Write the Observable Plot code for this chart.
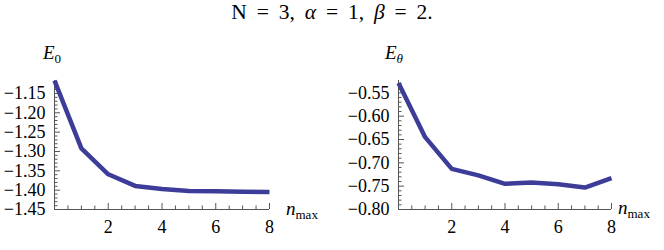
<!DOCTYPE html>
<html>
<head>
<meta charset="utf-8">
<script src="https://cdn.jsdelivr.net/npm/d3@7"></script>
<script src="https://cdn.jsdelivr.net/npm/@observablehq/plot@0.6"></script>
<style>
  html, body { margin: 0; padding: 0; background: #fff; }
  #wrap { position: relative; width: 664px; height: 250px; font-family: 'Liberation Serif', 'Times New Roman', serif; color: #000; }
  #title { position: absolute; left: 0; top: -3px; width: 664px; text-align: center; font-size: 21.5px; line-height: 30px; word-spacing: 4.5px; }
  .panel { position: absolute; top: 40px; }
  .lbl { position: absolute; font-size: 19px; line-height: 1; white-space: nowrap; }
  .lbl i { font-style: italic; }
  .lbl sub { font-size: 13px; vertical-align: -4px; line-height: 0; }
</style>
</head>
<body>
<div id="wrap">
  <div id="title">N = 3, <i>α</i> = 1, <i>β</i> = 2.</div>
  <div class="panel" id="left" style="left:0px"></div>
  <div class="panel" id="right" style="left:332px"></div>
  <div class="lbl" style="left:43px; top:43px"><i>E</i><sub>0</sub></div>
  <div class="lbl" style="left:385px; top:43px"><i>E</i><sub><i>θ</i></sub></div>
  <div class="lbl" style="left:286px; top:199px"><i>n</i><sub>max</sub></div>
  <div class="lbl" style="left:618px; top:198px"><i>n</i><sub>max</sub></div>
</div>
<script>
// Data
const nmax = [0, 1, 2, 3, 4, 5, 6, 7, 8];
const E0 = [-1.117, -1.292, -1.359, -1.389, -1.397, -1.402, -1.403, -1.404, -1.405];
const Etheta = [-0.529, -0.645, -0.713, -0.727, -0.745, -0.742, -0.746, -0.753, -0.733];
const xMajorTicks = [2, 4, 6, 8];
const xMinorTicks = [0.5, 1, 1.5, 2.5, 3, 3.5, 4.5, 5, 5.5, 6.5, 7, 7.5];
const E0Ticks = [-1.45, -1.40, -1.35, -1.30, -1.25, -1.20, -1.15];
const EthetaTicks = [-0.80, -0.75, -0.70, -0.65, -0.60, -0.55];

const lineColor = "#3d3d99";
const axisColor = "#555";
const serif = "Liberation Serif";
const fmt = d3.format(".2f");

function minorTicks(lo, hi, step, majors) {
  const out = [];
  const n = Math.floor((hi - lo) / step + 1e-6);
  for (let i = 0; i <= n; i++) {
    const v = +(lo + i * step).toFixed(4);
    if (!majors.some(m => Math.abs(m - v) < 1e-6)) out.push(v);
  }
  return out;
}

function panel(values, yTicks, yDomain, marginLeft, marginRight) {
  const data = nmax.map((x, i) => ({x, y: values[i]}));
  const yMinor = minorTicks(yDomain[0], yDomain[1], 0.01, yTicks);
  const svg = Plot.plot({
    width: 332,
    height: 200,
    marginLeft,
    marginRight,
    marginTop: 40,
    marginBottom: 31,
    style: {color: "#000", background: "transparent"},
    x: {domain: [0, 8]},
    y: {domain: yDomain},
    marks: [
      Plot.axisX({ticks: xMajorTicks, tickSize: -6, tickFormat: () => "", stroke: axisColor, label: null}),
      Plot.axisX({ticks: xMinorTicks, tickSize: -3.5, tickFormat: () => "", stroke: axisColor, label: null}),
      Plot.axisY({ticks: yTicks, tickSize: -6, tickFormat: () => "", stroke: axisColor, label: null}),
      Plot.axisY({ticks: yMinor, tickSize: -3.5, tickFormat: () => "", stroke: axisColor, label: null}),
      Plot.ruleY([yDomain[0]], {stroke: axisColor}),
      Plot.ruleX([0], {stroke: axisColor}),
      Plot.text(xMajorTicks, {x: d => d, y: yDomain[0], text: d => d3.format("d")(d), dy: 18, lineAnchor: "middle", fill: "#000", fontSize: 18, fontFamily: serif}),
      Plot.text(yTicks, {x: 0, y: d => d, text: d => fmt(d), dx: -9, textAnchor: "end", lineAnchor: "middle", fill: "#000", fontSize: 18, fontFamily: serif}),
      Plot.line(data, {x: "x", y: "y", stroke: lineColor, strokeWidth: 4.5, strokeLinejoin: "miter", strokeLinecap: "butt"})
    ]
  });
  d3.select(svg).selectAll("text").style("font-family", "'Liberation Serif', serif").style("font-size", "18px");
  return svg;
}

document.getElementById("left").append(panel(E0, E0Ticks, [-1.45, -1.1165], 54, 63));
document.getElementById("right").append(panel(Etheta, EthetaTicks, [-0.80, -0.5236], 66, 53));
</script>
</body>
</html>
